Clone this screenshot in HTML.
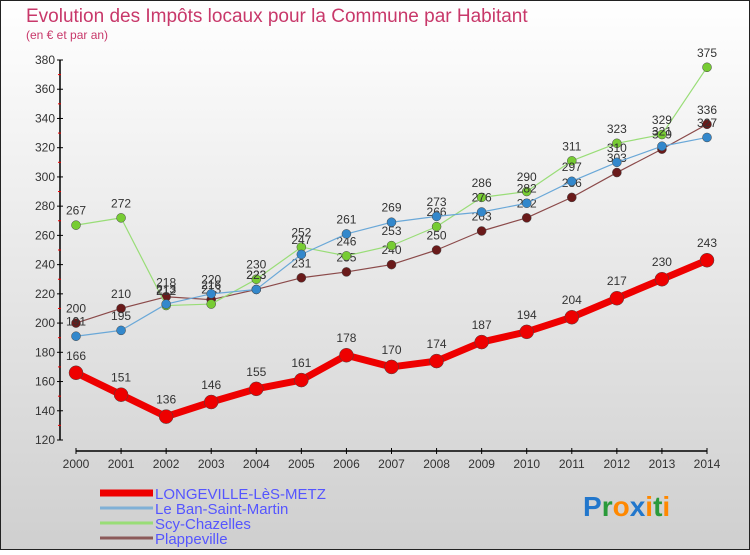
<!DOCTYPE html>
<html><head><meta charset="utf-8"><style>
html,body{margin:0;padding:0}
body{width:750px;height:550px;overflow:hidden;font-family:"Liberation Sans",sans-serif}
</style></head><body>
<svg width="750" height="550" xmlns="http://www.w3.org/2000/svg" id="svg">
<defs><linearGradient id="bg" x1="0" y1="0" x2="0" y2="1"><stop offset="0" stop-color="#ffffff"/><stop offset="1" stop-color="#cfcfcf"/></linearGradient></defs>
<rect x="0" y="0" width="750" height="550" fill="url(#bg)" stroke="#222" stroke-width="2"/>
<text x="26" y="22" font-size="19" fill="#c8386a">Evolution des Impôts locaux pour la Commune par Habitant</text>
<text x="26" y="39" font-size="12" fill="#c8386a">(en € et par an)</text>
<g id="axes"></g><g id="series"></g><g id="legend"></g>
<text x="583" y="516" font-size="28" font-weight="bold" fill="#2277cc">P<tspan fill="#2a9a3a">r</tspan><tspan fill="#ff8800">o</tspan><tspan fill="#2277cc">x</tspan><tspan fill="#ff8800">i</tspan><tspan fill="#2a9a3a">t</tspan><tspan fill="#ff8800">i</tspan></text>
</svg>
<script>
const years=[2000,2001,2002,2003,2004,2005,2006,2007,2008,2009,2010,2011,2012,2013,2014];
const longeville=[166,151,136,146,155,161,178,170,174,187,194,204,217,230,243];
const leBan=[191,195,213,220,223,247,261,269,273,276,282,297,310,321,327];
const scy=[267,272,212,213,230,252,246,253,266,286,290,311,323,329,375];
const plappeville=[200,210,218,216,223,231,235,240,250,263,272,286,303,319,336];
const yTicks=[120,140,160,180,200,220,240,260,280,300,320,340,360,380];
const NS="http://www.w3.org/2000/svg";
function X(i){return 76+i*(707-76)/(years.length-1);}
function Y(v){return 440-(v-120)*(380/260);}
function mk(p,t,a){const e=document.createElementNS(NS,t);for(const k in a)e.setAttribute(k,a[k]);p.appendChild(e);return e;}
const ax=document.getElementById('axes');
let e=mk(ax,'line',{x1:60,y1:Y(380),x2:60,y2:Y(120),stroke:'#000','stroke-width':1.5});


e=mk(ax,'line',{x1:76,y1:451,x2:707,y2:451,stroke:'#000','stroke-width':1.5});


yTicks.forEach(v=>{mk(ax,'line',{x1:57,x2:63,y1:Y(v),y2:Y(v),stroke:'#000'});
const t=mk(ax,'text',{x:55,y:Y(v)+4,'font-size':12,'text-anchor':'end',fill:'#333'});t.textContent=v;


if(v<380)mk(ax,'line',{x1:58,x2:61,y1:Y(v+10),y2:Y(v+10),stroke:'#e00'});});
years.forEach((y,i)=>{mk(ax,'line',{x1:X(i),x2:X(i),y1:448,y2:454,stroke:'#000'});
const t=mk(ax,'text',{x:X(i),y:468,'font-size':12,'text-anchor':'middle',fill:'#333'});t.textContent=y;

});
const sg=document.getElementById('series');
function series(name,vals,color,dot,w,r){
 const g=mk(sg,'g',{});
 
 
 mk(g,'polyline',{points:vals.map((v,i)=>X(i)+','+Y(v)).join(' '),fill:'none',stroke:color,'stroke-width':w,'stroke-linejoin':'round'});
 vals.forEach((v,i)=>{const c=mk(g,'circle',{cx:X(i),cy:Y(v),r:r,fill:dot,stroke:'#444','stroke-width':0.5});
 
 
 const t=mk(g,'text',{x:X(i),y:Y(v)-r-6,'font-size':12,'text-anchor':'middle',fill:'#333'});t.textContent=v;});
}
series('series-plappeville',plappeville,'#8b4a4a','#6a1a1a',1.2,4.5);
series('series-scy-chazelles',scy,'#99dd77','#77cc33',1.2,4.5);
series('series-le-ban-saint-martin',leBan,'#6aa8d8','#3388cc',1.2,4.5);
series('series-longeville',longeville,'#ee0000','#ee0000',7,7);
const lg=document.getElementById('legend');
[['LONGEVILLE-LèS-METZ','#ee0000',7],['Le Ban-Saint-Martin','#7fb0d6',3],['Scy-Chazelles','#99dd77',3],['Plappeville','#8b5a5a',3]].forEach((d,k)=>{
 const y=493+k*15;
 const g=mk(lg,'g',{});
 
 
 mk(g,'line',{x1:100,x2:153,y1:y,y2:y,stroke:d[1],'stroke-width':d[2]});
 const t=mk(g,'text',{x:155,y:y+6,'font-size':15,fill:'#5555ff'});t.textContent=d[0];
});
</script>
</body></html>
